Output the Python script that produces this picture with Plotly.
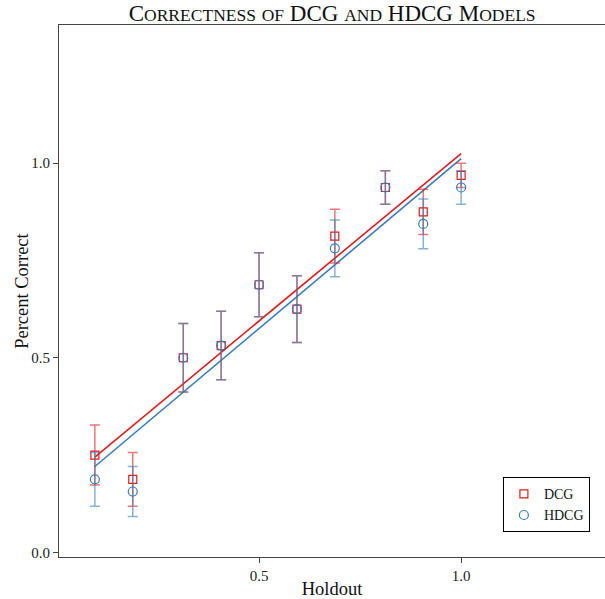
import numpy as np
import plotly.graph_objects as go

holdout = [0.09375, 0.1875, 0.3125, 0.40625, 0.5, 0.59375, 0.6875, 0.8125, 0.90625, 1.0]
dcg = [0.25, 0.1875, 0.5, 0.53125, 0.6875, 0.625, 0.8125, 0.9375, 0.875, 0.96875]
dcg_err = [0.077, 0.069, 0.088, 0.088, 0.082, 0.086, 0.069, 0.043, 0.058, 0.031]
hdcg = [0.1875, 0.15625, 0.5, 0.53125, 0.6875, 0.625, 0.78125, 0.9375, 0.84375, 0.9375]
hdcg_err = [0.069, 0.064, 0.088, 0.088, 0.082, 0.086, 0.073, 0.043, 0.064, 0.043]

RED = "rgb(228,26,28)"
BLUE = "rgb(55,126,184)"
FONT = "Liberation Serif"


def small_caps(text, big=23, small=17.5):
    out = []
    for ch in text:
        if ch.islower():
            out.append(f"<span style='font-size:{small}px'>{ch.upper()}</span>")
        else:
            out.append(ch)
    return "".join(out)


fig = go.Figure()

xs = np.array(holdout)
xline = [holdout[0], holdout[-1]]
for ys, col in ((hdcg, BLUE), (dcg, RED)):
    m, b = np.polyfit(xs, np.array(ys), 1)
    fig.add_trace(go.Scatter(x=xline, y=[m * xline[0] + b, m * xline[1] + b], mode="lines",
                             line=dict(color=col, width=1.6), showlegend=False, hoverinfo="skip"))

fig.add_trace(go.Scatter(
    x=holdout, y=dcg, mode="markers", name="DCG",
    marker=dict(symbol="square-open", size=8, color=RED, line=dict(width=1.2, color=RED)),
    error_y=dict(type="data", array=dcg_err, visible=True, color="rgba(228,26,28,0.6)", thickness=1.5, width=5),
))
fig.add_trace(go.Scatter(
    x=holdout, y=hdcg, mode="markers", name="HDCG",
    marker=dict(symbol="circle-open", size=9, color=BLUE, line=dict(width=1.2, color=BLUE)),
    error_y=dict(type="data", array=hdcg_err, visible=True, color="rgba(55,126,184,0.6)", thickness=1.5, width=5),
))

axis_common = dict(
    showgrid=False, zeroline=False, showline=True, linecolor="#444", linewidth=1.2,
    ticks="outside", ticklen=5, tickcolor="#444", tickwidth=1,
    tickfont=dict(family=FONT, size=15, color="#222"),
    title_font=dict(family=FONT, size=18.5, color="#111"),
)

fig.update_layout(
    width=605, height=599,
    margin=dict(l=59, r=0, t=25, b=42),
    paper_bgcolor="white", plot_bgcolor="white",
    title=dict(text=small_caps("Correctness of DCG and HDCG Models"), x=0.549, xanchor="center",
               y=0.979, yanchor="middle", font=dict(family=FONT, size=23, color="#111")),
    xaxis=dict(range=[0.005, 1.356], tickvals=[0.5, 1.0], ticktext=["0.5", "1.0"], mirror=True,
               title=dict(text="Holdout", standoff=2), **axis_common),
    yaxis=dict(range=[-0.012, 1.355], tickvals=[0.0, 0.5, 1.0], ticktext=["0.0", "0.5", "1.0"],
               **axis_common),
    legend=dict(x=0.813, y=0.150, xanchor="left", yanchor="top", bordercolor="black", borderwidth=1,
                bgcolor="white", font=dict(family=FONT, size=14, color="#111"),
                itemwidth=30, tracegroupgap=0),
    showlegend=True,
    annotations=[dict(text="Percent Correct", xref="paper", yref="paper", x=-0.068, y=0.5,
                      xanchor="center", yanchor="middle", textangle=-90, showarrow=False,
                      font=dict(family=FONT, size=18.5, color="#111"))],
)

fig.write_html("out.html")
